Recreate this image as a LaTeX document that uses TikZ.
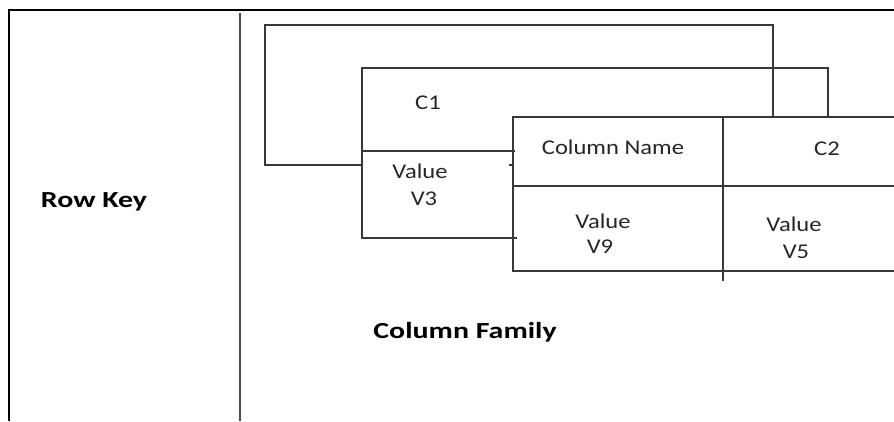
\documentclass[tikz,border=0pt]{standalone}
\usepackage{fontspec}
\setmainfont{Carlito}
\begin{document}
\begin{tikzpicture}[x=1pt,y=-1pt,
  ln/.style={draw=black!78,line width=1.3pt},
  frame/.style={draw=black,line width=2.3pt},
  divl/.style={draw=black!70,line width=1.3pt},
  lbl/.style={anchor=base,inner sep=0pt,text=black!85,font=\fontsize{21}{24}\selectfont},
  blbl/.style={anchor=base,inner sep=0pt,font=\bfseries\fontsize{23}{26}\selectfont}]
\useasboundingbox (0,0) rectangle (894,421);
% frame
\draw[frame] (9,421) -- (9,10) -- (894,10);
\draw[divl] (240,13) -- (240,421);
% outer C path
\coordinate (a1) at (362,165);
\coordinate (a2) at (773,117);
\draw[ln] (a1) -- (265,165) -- (265,25) -- (773,25) -- (a2);
\draw[ln] (509,165) -- (513,165);
% C1 block
\coordinate (b1) at (828,117);
\draw[ln] (515,151) -- (362,151) -- (362,68) -- (828,68) -- (b1);
\draw[ln] (362,151) -- (362,238) -- (517,238);
% column table
\draw[ln] (894,117) -- (513,117) -- (513,271) -- (894,271);
\draw[ln] (513,186) -- (894,186);
\draw[ln] (723,117) -- (723,281);
% labels
\node[lbl] (c1) at (428,109) {\scalebox{1.17}[1]{C1}};
\node[lbl] (v3a) at (420,178) {\scalebox{1.17}[1]{Value}};
\node[lbl] (v3b) at (424,205) {\scalebox{1.17}[1]{V3}};
\node[lbl] (cn) at (613,154) {\scalebox{1.17}[1]{Column Name}};
\node[lbl] (c2) at (827,155) {\scalebox{1.17}[1]{C2}};
\node[lbl] (v9a) at (603,228) {\scalebox{1.17}[1]{Value}};
\node[lbl] (v9b) at (600,253) {\scalebox{1.17}[1]{V9}};
\node[lbl] (v5a) at (794,231) {\scalebox{1.17}[1]{Value}};
\node[lbl] (v5b) at (796,258) {\scalebox{1.17}[1]{V5}};
\node[blbl] (rk) at (94,207) {\scalebox{1.3}[1]{Row Key}};
\node[blbl] (cf) at (465,338) {\scalebox{1.3}[1]{Column Family}};
\end{tikzpicture}
\end{document}
